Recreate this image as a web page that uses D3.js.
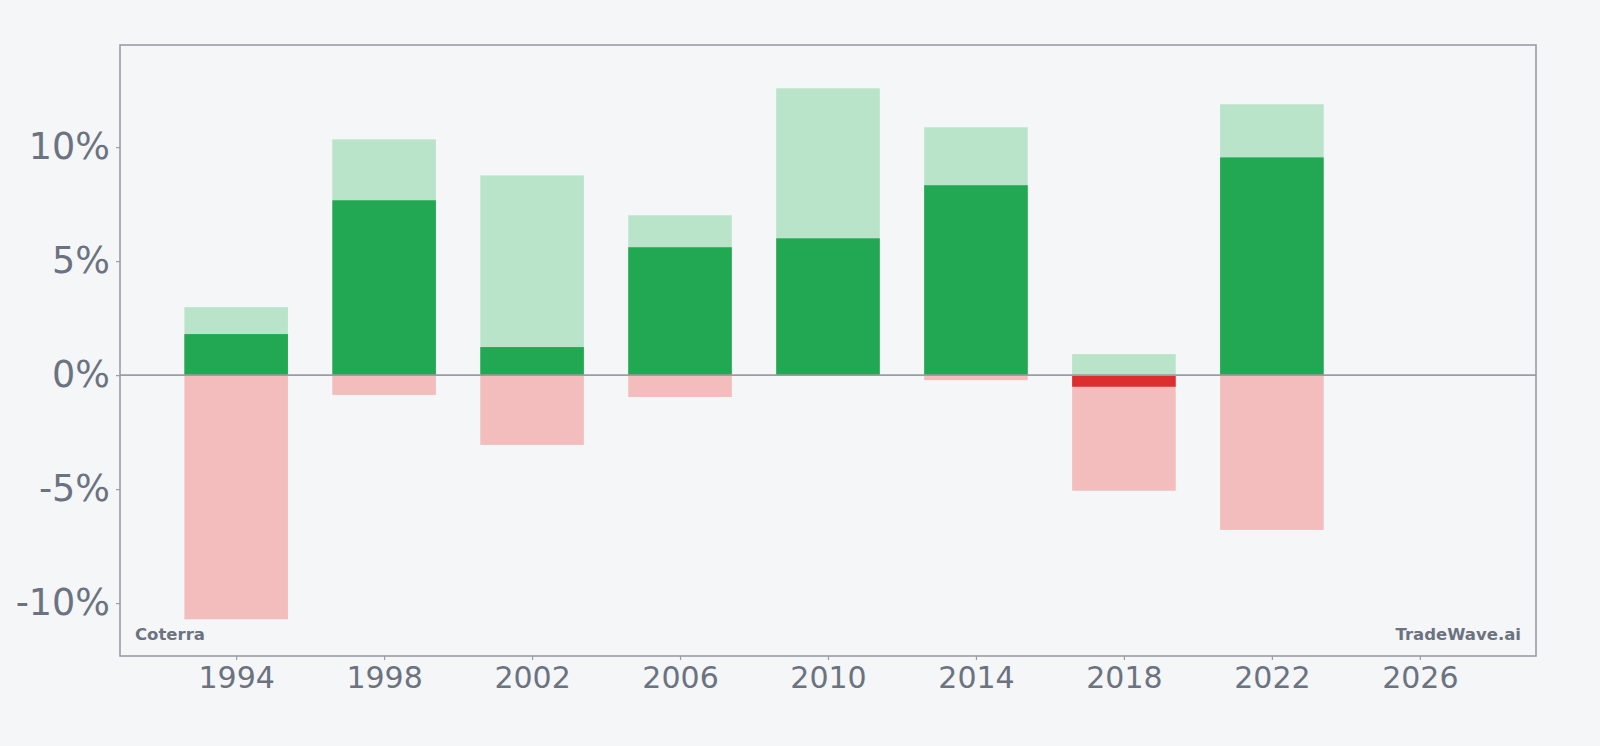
<!DOCTYPE html>
<html>
<head>
<meta charset="utf-8">
<script src="https://cdn.jsdelivr.net/npm/d3@7"></script>
<style>
    body { margin: 0; background: #f5f6f8; }
    #chart { width: 1600px; height: 746px; }
    text { font-family: "DejaVu Sans", sans-serif; }
</style>
</head>
<body>
<div id="chart"></div>
<script>

// yearly bars, values in percent
let years = [1994, 1998, 2002, 2006, 2010, 2014, 2018, 2022];
let maxGain = [2.98, 10.34, 8.76, 7.01, 12.58, 10.87, 0.92, 11.88];
let periodReturn = [1.80, 7.67, 1.23, 5.61, 6.00, 8.33, -0.51, 9.55];
let maxLoss = [-10.71, -0.87, -3.06, -0.96, 0, -0.22, -5.07, -6.79];

let xTicks = [1994, 1998, 2002, 2006, 2010, 2014, 2018, 2022, 2026];
let yTicks = [-10, -5, 0, 5, 10];

let company = "Coterra";
let brand = "TradeWave.ai";

let margin = {top: 45, right: 64, bottom: 90, left: 120};
let width = 1600 - margin.left - margin.right;
let height = 746 - margin.top - margin.bottom;
let barWidth = 2.8;
let axisColor = "#9a9ca6";
let textColor = "#6b7280";

let rows = years.map((y, i) => ({
    year: y,
    high: maxGain[i],
    ret: periodReturn[i],
    low: maxLoss[i]
}));

let svg = d3.select("#chart").append("svg")
    .attr("width", 1600)
    .attr("height", 746)
    .append("g")
    .attr("transform", `translate(${margin.left}, ${margin.top})`);

let x = d3.scaleLinear()
    .domain([1990.86, 2029.14])
    .range([0, width]);

let y = d3.scaleLinear()
    .domain([-12.32, 14.48])
    .range([height, 0]);

let bw = x(1990.86 + barWidth) - x(1990.86);

// light green: best point, pink: worst point
svg.selectAll(".bar-high")
    .data(rows)
    .join("rect")
    .attr("class", "bar-high")
    .attr("x", d => x(d.year) - bw / 2)
    .attr("width", bw)
    .attr("y", d => y(Math.max(0, d.high)))
    .attr("height", d => Math.abs(y(d.high) - y(0)))
    .attr("fill", "#b9e4c9");

svg.selectAll(".bar-low")
    .data(rows)
    .join("rect")
    .attr("class", "bar-low")
    .attr("x", d => x(d.year) - bw / 2)
    .attr("width", bw)
    .attr("y", y(0))
    .attr("height", d => Math.abs(y(d.low) - y(0)))
    .attr("fill", "#f3bdbd");

// actual return
svg.selectAll(".bar-ret")
    .data(rows)
    .join("rect")
    .attr("class", "bar-ret")
    .attr("x", d => x(d.year) - bw / 2)
    .attr("width", bw)
    .attr("y", d => y(Math.max(0, d.ret)))
    .attr("height", d => Math.abs(y(d.ret) - y(0)))
    .attr("fill", d => d.ret >= 0 ? "#22a852" : "#dc2d2f");

// zero line
svg.append("line")
    .attr("x1", 0)
    .attr("x2", width)
    .attr("y1", y(0))
    .attr("y2", y(0))
    .attr("stroke", axisColor)
    .attr("stroke-width", 1.6);

// frame
svg.append("rect")
    .attr("x", 0)
    .attr("y", 0)
    .attr("width", width)
    .attr("height", height)
    .attr("fill", "none")
    .attr("stroke", axisColor)
    .attr("stroke-width", 1.6);

let xAxis = d3.axisBottom(x)
    .tickValues(xTicks)
    .tickFormat(d3.format("d"))
    .tickSize(4)
    .tickPadding(7);

let yAxis = d3.axisLeft(y)
    .tickValues(yTicks)
    .tickFormat(d => d + "%")
    .tickSize(4)
    .tickPadding(6);

let xg = svg.append("g")
    .attr("transform", `translate(0, ${height})`)
    .call(xAxis);

let yg = svg.append("g")
    .call(yAxis);

xg.select(".domain").remove();
yg.select(".domain").remove();

xg.selectAll(".tick line").attr("stroke", axisColor).attr("stroke-width", 1.2);
yg.selectAll(".tick line").attr("stroke", axisColor).attr("stroke-width", 1.2);

xg.selectAll(".tick text")
    .attr("fill", textColor)
    .style("font-family", "DejaVu Sans")
    .style("font-size", "30px");

yg.selectAll(".tick text")
    .attr("fill", textColor)
    .style("font-family", "DejaVu Sans")
    .style("font-size", "36.5px");

// labels inside the frame
svg.append("text")
    .attr("x", 15)
    .attr("y", height - 16)
    .attr("fill", textColor)
    .attr("font-size", "16.5px")
    .attr("font-weight", "bold")
    .text(company);

svg.append("text")
    .attr("x", width - 15)
    .attr("y", height - 16)
    .attr("text-anchor", "end")
    .attr("fill", textColor)
    .attr("font-size", "16.5px")
    .attr("font-weight", "bold")
    .text(brand);

</script>
</body>
</html>
